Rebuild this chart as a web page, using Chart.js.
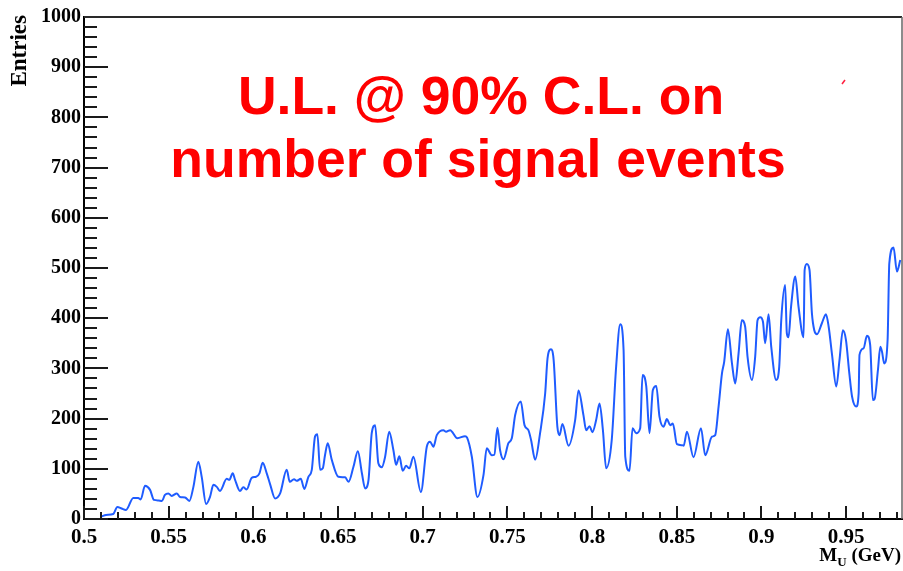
<!DOCTYPE html>
<html>
<head>
<meta charset="utf-8">
<title>Upper limit on number of signal events</title>
<script src="https://cdn.jsdelivr.net/npm/chart.js@4/dist/chart.umd.min.js"></script>
<style>
  html, body { margin: 0; padding: 0; background: #fff; }
  #wrap { width: 903px; height: 571px; }
</style>
</head>
<body>
<div id="wrap"><canvas id="c" width="903" height="571"></canvas></div>
<script>
// Mass hypothesis M_U (GeV)
const massU = [
  0.5104, 0.5130, 0.5173, 0.5197, 0.5222, 0.5248, 0.5291, 0.5320, 0.5335, 0.5360,
  0.5390, 0.5413, 0.5440, 0.5460, 0.5478, 0.5498, 0.5518, 0.5548, 0.5567, 0.5597,
  0.5622, 0.5646, 0.5675, 0.5695, 0.5721, 0.5744, 0.5764, 0.5784, 0.5803, 0.5843,
  0.5858, 0.5878, 0.5892, 0.5921, 0.5941, 0.5961, 0.5990, 0.6016, 0.6036, 0.6055,
  0.6079, 0.6100, 0.6128, 0.6158, 0.6197, 0.6215, 0.6240, 0.6256, 0.6280, 0.6301,
  0.6325, 0.6345, 0.6364, 0.6378, 0.6394, 0.6410, 0.6423, 0.6439, 0.6463, 0.6502,
  0.6542, 0.6562, 0.6591, 0.6617, 0.6641, 0.6660, 0.6680, 0.6699, 0.6719, 0.6738,
  0.6758, 0.6778, 0.6802, 0.6827, 0.6843, 0.6862, 0.6882, 0.6902, 0.6921, 0.6945,
  0.6989, 0.7024, 0.7043, 0.7063, 0.7083, 0.7122, 0.7138, 0.7162, 0.7205, 0.7250,
  0.7262, 0.7290, 0.7323, 0.7359, 0.7378, 0.7408, 0.7423, 0.7441, 0.7457, 0.7477,
  0.7506, 0.7526, 0.7546, 0.7579, 0.7601, 0.7624, 0.7640, 0.7664, 0.7693, 0.7723,
  0.7737, 0.7757, 0.7773, 0.7795, 0.7808, 0.7825, 0.7861, 0.7900, 0.7920, 0.7949,
  0.7965, 0.7985, 0.8002, 0.8024, 0.8044, 0.8064, 0.8083, 0.8116, 0.8142, 0.8166,
  0.8186, 0.8196, 0.8221, 0.8239, 0.8260, 0.8284, 0.8298, 0.8320, 0.8339, 0.8359,
  0.8379, 0.8398, 0.8422, 0.8442, 0.8461, 0.8477, 0.8501, 0.8531, 0.8541, 0.8560,
  0.8599, 0.8643, 0.8668, 0.8708, 0.8727, 0.8747, 0.8767, 0.8780, 0.8802, 0.8826,
  0.8845, 0.8865, 0.8884, 0.8904, 0.8918, 0.8944, 0.8963, 0.8977, 0.8993, 0.9009,
  0.9022, 0.9042, 0.9058, 0.9087, 0.9105, 0.9117, 0.9140, 0.9150, 0.9160, 0.9175,
  0.9200, 0.9219, 0.9249, 0.9255, 0.9268, 0.9284, 0.9298, 0.9312, 0.9328, 0.9357,
  0.9381, 0.9397, 0.9416, 0.9442, 0.9461, 0.9481, 0.9499, 0.9519, 0.9535, 0.9560,
  0.9574, 0.9579, 0.9603, 0.9623, 0.9642, 0.9658, 0.9668, 0.9688, 0.9702, 0.9712,
  0.9725, 0.9745, 0.9755, 0.9780, 0.9800, 0.9820
];

// Upper limit at 90% C.L. on the number of signal events
const entries = [
  5, 8, 10, 24, 21, 18, 42, 42, 39, 66,
  58, 38, 37, 36, 48, 51, 46, 51, 44, 43,
  36, 64, 114, 84, 30, 44, 68, 64, 56, 80,
  78, 91, 78, 56, 63, 59, 82, 84, 91, 112,
  91, 68, 41, 51, 98, 74, 79, 76, 80, 60,
  84, 98, 164, 169, 98, 101, 127, 151, 118, 84,
  83, 74, 104, 135, 91, 61, 78, 171, 187, 111,
  103, 124, 174, 137, 108, 125, 96, 106, 101, 124,
  54, 144, 154, 144, 167, 177, 174, 177, 161, 165,
  162, 124, 44, 88, 141, 127, 128, 182, 137, 119,
  151, 161, 207, 234, 187, 177, 157, 118, 171, 250,
  320, 338, 317, 184, 167, 189, 146, 197, 256, 207,
  177, 185, 173, 197, 230, 177, 101, 157, 303, 388,
  337, 124, 96, 181, 171, 181, 287, 264, 171, 257,
  265, 204, 184, 199, 187, 190, 149, 147, 146, 174,
  123, 181, 127, 164, 167, 224, 290, 313, 378, 310,
  270, 330, 396, 383, 323, 277, 323, 396, 402, 393,
  350, 408, 343, 277, 303, 396, 466, 370, 362, 423,
  483, 423, 362, 496, 508, 496, 410, 376, 368, 390,
  408, 383, 330, 264, 317, 376, 357, 290, 244, 224,
  250, 327, 340, 365, 347, 237, 239, 297, 343, 333,
  310, 357, 509, 541, 493, 516
];

const xTickValues = [0.5, 0.55, 0.6, 0.65, 0.7, 0.75, 0.8, 0.85, 0.9, 0.95];
const xTickLabels = ['0.5', '0.55', '0.6', '0.65', '0.7', '0.75', '0.8', '0.85', '0.9', '0.95'];
const yTickValues = [0, 100, 200, 300, 400, 500, 600, 700, 800, 900, 1000];

const titleLines = ['U.L. @ 90% C.L. on', 'number of signal events'];

const serifBold = '"Liberation Serif", "DejaVu Serif", serif';

// Inward-pointing major/minor tick marks, frame and annotations
const framePlugin = {
  id: 'frame',
  afterDatasetsDraw(chart) {
    const { ctx, chartArea: a, scales } = chart;
    const xs = scales.x, ys = scales.y;
    ctx.save();
    ctx.strokeStyle = '#1a1a1a';
    ctx.lineWidth = 2;
    ctx.beginPath();
    // y ticks: major every 100, minor every 20
    for (let v = ys.min; v <= ys.max + 1e-6; v += 20) {
      const py = Math.round(ys.getPixelForValue(v));
      const major = Math.abs(v % 100) < 1e-6;
      ctx.moveTo(a.left, py);
      ctx.lineTo(a.left + (major ? 24 : 13), py);
    }
    // x ticks: major every 0.05, minor every 0.01
    for (let i = 0; ; i++) {
      const v = 0.5 + i * 0.01;
      if (v > xs.max + 1e-9) break;
      const px = Math.round(xs.getPixelForValue(v));
      const major = i % 5 === 0;
      ctx.moveTo(px, a.bottom);
      ctx.lineTo(px, a.bottom - (major ? 13 : 7));
    }
    ctx.stroke();

    // top and right frame lines
    ctx.strokeStyle = '#2a2a2a';
    ctx.lineWidth = 2;
    ctx.beginPath();
    ctx.moveTo(a.left, a.top);
    ctx.lineTo(a.right, a.top);
    ctx.stroke();
    ctx.strokeStyle = '#666';
    ctx.lineWidth = 1.5;
    ctx.beginPath();
    ctx.moveTo(a.right, a.top);
    ctx.lineTo(a.right, a.bottom);
    ctx.stroke();

    // axis titles
    ctx.fillStyle = '#000';
    ctx.textBaseline = 'alphabetic';
    ctx.save();
    ctx.translate(26, 15);
    ctx.rotate(-Math.PI / 2);
    ctx.textAlign = 'right';
    ctx.font = 'bold 23px ' + serifBold;
    ctx.fillText('Entries', 0, 0);
    ctx.restore();

    ctx.textAlign = 'left';
    ctx.font = 'bold 19px ' + serifBold;
    const mW = ctx.measureText('M').width;
    ctx.font = 'bold 13px ' + serifBold;
    const uW = ctx.measureText('U').width;
    ctx.font = 'bold 19px ' + serifBold;
    const restW = ctx.measureText(' (GeV)').width;
    let x0 = 901 - (mW + uW + restW);
    ctx.fillText('M', x0, 561);
    ctx.font = 'bold 13px ' + serifBold;
    ctx.fillText('U', x0 + mW, 566);
    ctx.font = 'bold 19px ' + serifBold;
    ctx.fillText(' (GeV)', x0 + mW + uW, 561);

    // headline
    ctx.fillStyle = '#ff0000';
    ctx.textAlign = 'center';
    ctx.font = 'bold 53.5px "Liberation Sans", Arial, sans-serif';
    ctx.fillText(titleLines[0], 481, 114);
    ctx.fillText(titleLines[1], 478, 177);

    // small red stroke near the upper right
    ctx.strokeStyle = '#ff2040';
    ctx.lineWidth = 1.5;
    ctx.beginPath();
    ctx.moveTo(842, 84);
    ctx.lineTo(845, 80);
    ctx.stroke();
    ctx.restore();
  }
};

new Chart(document.getElementById('c'), {
  type: 'line',
  data: {
    datasets: [{
      data: massU.map((m, i) => ({ x: m, y: entries[i] })),
      borderColor: '#1f5cff',
      borderWidth: 2,
      pointRadius: 0,
      fill: false,
      cubicInterpolationMode: 'monotone'
    }]
  },
  options: {
    responsive: false,
    animation: false,
    devicePixelRatio: 1,
    layout: { padding: { top: 17, right: 1, left: 0, bottom: 0 } },
    plugins: { legend: { display: false }, tooltip: { enabled: false } },
    scales: {
      x: {
        type: 'linear',
        min: 0.5,
        max: 0.983,
        afterBuildTicks: s => { s.ticks = xTickValues.map(v => ({ value: v })); },
        afterFit: s => { s.height = 52; },
        grid: { display: true, drawOnChartArea: false, drawTicks: false },
        border: { display: true, color: '#000', width: 2 },
        ticks: {
          padding: 6,
          color: '#000',
          maxRotation: 0,
          autoSkip: false,
          font: { family: serifBold, size: 21, weight: 'bold' },
          callback: (v) => {
            const i = xTickValues.findIndex(t => Math.abs(t - v) < 1e-9);
            return i >= 0 ? xTickLabels[i] : '';
          }
        }
      },
      y: {
        type: 'linear',
        min: 0,
        max: 1000,
        afterBuildTicks: s => { s.ticks = yTickValues.map(v => ({ value: v })); },
        afterFit: s => { s.width = 84; },
        grid: { display: true, drawOnChartArea: false, drawTicks: false },
        border: { display: true, color: '#000', width: 2 },
        ticks: {
          padding: 3,
          color: '#000',
          autoSkip: false,
          font: { family: serifBold, size: 20, weight: 'bold' },
          callback: v => String(v)
        }
      }
    }
  },
  plugins: [framePlugin]
});
</script>
</body>
</html>
